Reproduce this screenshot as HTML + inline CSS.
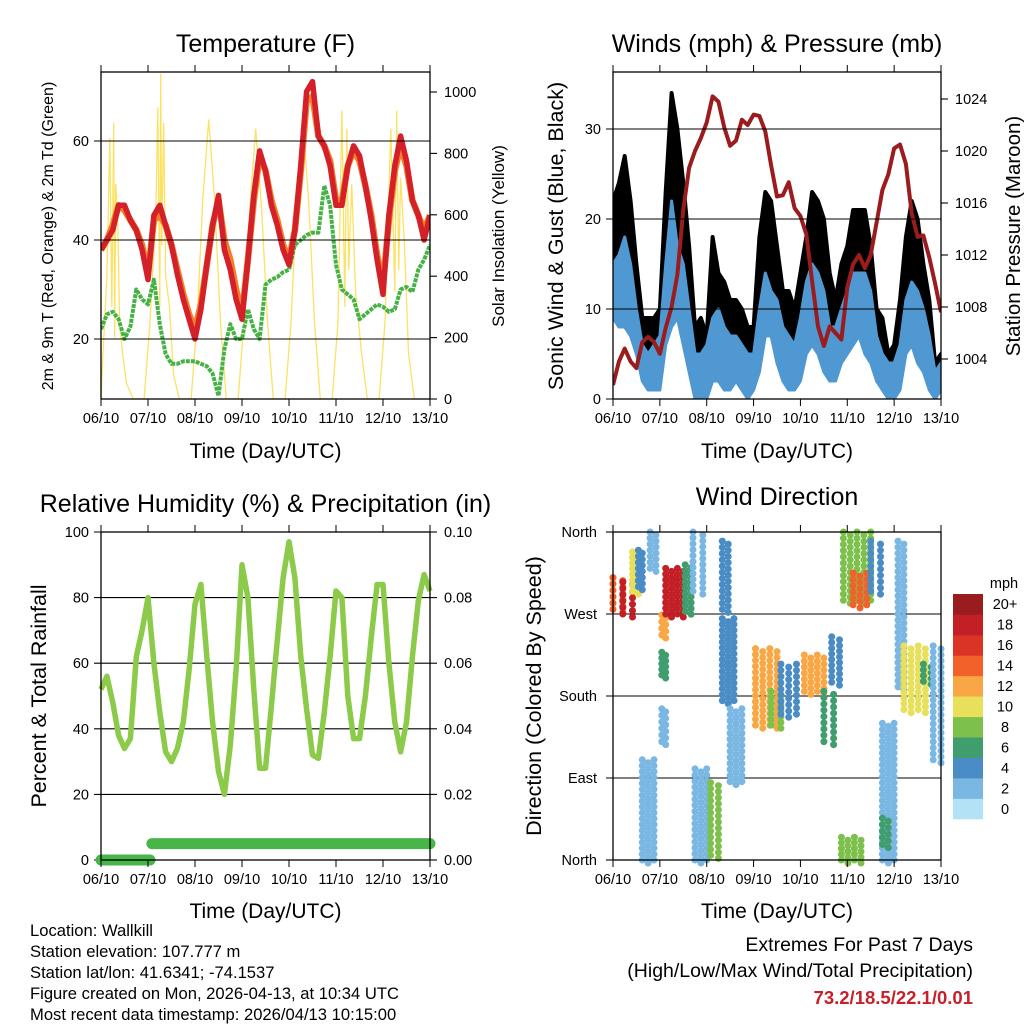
<!DOCTYPE html>
<html><head><meta charset="utf-8"><style>
html,body{margin:0;padding:0;background:#fff;}
svg{display:block;font-family:"Liberation Sans",sans-serif;}
</style></head><body>
<svg id="root" width="1024" height="1024" viewBox="0 0 1024 1024" xmlns="http://www.w3.org/2000/svg">
<defs>
<clipPath id="clip2"><rect x="613" y="72" width="328" height="327"/></clipPath>
<clipPath id="clip1"><rect x="101" y="72" width="329" height="327"/></clipPath>
</defs>
<g id="g1"></g>
<g id="g2"></g>
<g id="g3"></g>
<g id="g4"></g>
<g id="info">
<text x="30" y="936" font-size="16.6">Location: Wallkill</text>
<text x="30" y="957" font-size="16.6">Station elevation: 107.777 m</text>
<text x="30" y="978" font-size="16.6">Station lat/lon: 41.6341; -74.1537</text>
<text x="30" y="999" font-size="16.6">Figure created on Mon, 2026-04-13, at 10:34 UTC</text>
<text x="30" y="1020" font-size="16.6">Most recent data timestamp: 2026/04/13 10:15:00</text>
<text x="973" y="951" font-size="19.5" text-anchor="end">Extremes For Past 7 Days</text>
<text x="973" y="977" font-size="19.5" text-anchor="end">(High/Low/Max Wind/Total Precipitation)</text>
<text x="973" y="1004" font-size="18.5" font-weight="bold" fill="#c8202a" text-anchor="end">73.2/18.5/22.1/0.01</text>
</g>
</svg>
<script>
// ---------- data (3-hourly, t = 0..168 h) ----------
const dayLabels = ["06/10","07/10","08/10","09/10","10/10","11/10","12/10","13/10"];
const temp2m = [38,40,42,47,47,44,42,38,32,45,47,43,39,33,28,24,20,26,35,43,49,38,34,28,24,36,49,58,54,47,43,38,35,42,55,70,72,61,59,55,47,47,55,59,57,51,44,36,29,45,55,61,56,48,45,40,45];
const temp9m = [38,40,43,47,46,44,42,39,33,44,45,43,39,34,29,25,22,27,35,43,48,40,36,30,25,36,48,57,54,48,44,39,36,42,54,68,69,61,59,56,48,48,55,58,56,51,45,37,31,44,54,59,55,48,45,42,45];
const dewpt = [22,25,25.5,24,20,22.5,30,28,27,32,23,17,15,15,15.5,15.5,15.5,15,14.5,13,8.5,18,23,20,20,26,22,20,31,32,32.5,33.5,34,39,40,41,41.5,41.5,51,47,35,30,29,28,24,25,26,27,26.5,25.5,26,30,30.5,29.5,34,36,39];
const solarT = [-1,1,3,4.5,5.5,6.5,7,7.5,8.5,9.5,11,13,16.5, 22,25,28,29,30,30.5,31,32,33,35,37,40, 46,49,52,55,58,61,64, 70,73,76,79,82,85,88, 94,97,100,103,106,109,112, 118,121,123,124.5,125.5,126.5,128,130,133,136, 142,145,148,150,151,152,153,155,157,160];
const solarV = [0,150,400,850,300,900,200,700,600,250,150,50,0, 0,250,600,950,300,1060,500,900,400,300,80,0, 0,250,650,910,650,250,0, 0,250,620,880,620,250,0, 0,250,650,900,650,250,0, 0,250,940,300,880,420,700,350,150,0, 0,250,880,350,940,420,720,500,150,0];
const windLo = [9,8,8,7,5,2,1,1,1,6,8,9,6,3,0,0,0,2,2,1,1,2,1,0,1,3,7,7,4,2,1,1,2,5,6,5,3,2,2,4,5,6,7,5,4,2,1,0,0,1,5,6,4,3,1,0,1];
const windHi = [15,16,18,15,10,6,5,6,7,15,22,17,15,10,5,5,6,9,10,8,7,7,6,5,5,10,14,12,11,8,7,6,9,13,15,14,12,8,8,10,12,14,14,14,12,7,5,4,4,6,11,13,12,10,7,3,4];
const gustLo = [13,14,14,11,8,3,3,3,4,10,18,17,12,6,2,1,2,7,8,5,4,3,4,1,2,6,12,12,7,5,3,3,4,9,10,9,7,5,4,7,9,11,11,10,6,4,2,1,2,2,9,11,8,5,3,1,2];
const gustHi = [22,24,27,22,15,9,9,9,10,23,34,30,24,17,8,9,7,18,14,13,11,11,10,8,8,18,23,22,17,12,12,10,14,18,23,22,20,14,11,15,17,21,21,21,17,10,9,5,6,11,18,22,20,15,11,4,5];
const pressure = [1002,1003.8,1004.8,1003.8,1003.3,1005.3,1005.7,1005.3,1004.4,1006.4,1008,1010.5,1015.5,1018.7,1020,1021,1022.2,1024.2,1023.8,1021.8,1020.4,1020.8,1022.4,1022,1022.8,1022.7,1021.5,1018.9,1016.5,1016.6,1017.6,1015.6,1015,1013.6,1010,1006.5,1005,1006.5,1006,1005.5,1009.5,1011.3,1012,1011,1012,1014.5,1017,1018.2,1020.2,1020.5,1019,1015.2,1013.4,1013.5,1011.8,1009.8,1007.6];
const rh = [52,56,48,38,34,37,62,70,80,60,45,33,30,34,42,58,78,84,62,42,27,20,35,58,90,80,52,28,28,47,67,86,97,86,62,46,32,31,45,62,82,80,50,37,37,50,68,84,84,60,42,33,42,62,79,87,82];
const precipT = [0,25,26,168];
const precipV = [0,0,0.005,0.005];
// wind direction segments: start hour, end hour, dir low, dir high, speed (mph)
const dirT0 = [0,5,10,13,19,25,25,25,27,37,41,15,42,50,56,56,60,73,81,86,98,108,112,118,123,132,117,138,138,146,149,159,164];
const dirT1 = [5,10,13,15,22,27,27,27,36,40,46,21,48,54,59,62,66,84,86,94,108,113,116,132,130,137,127,144,141,149,160,163,168];
const dirLo = [275,270,295,300,320,203,130,247,270,273,295,0,0,5,275,175,86,148,148,160,185,130,195,285,280,295,0,0,17,190,165,196,110];
const dirHi = [310,305,338,340,360,228,166,269,320,324,360,110,100,85,350,265,166,232,185,215,225,185,245,360,315,350,25,150,46,350,235,215,235];
const dirSpd = [14,18,10,4,2,6,3,12,19,7,2,3,3,8,5,4,2,12,9,5,13,6,5,9,14,4,8,2,6,2,10,6,2];
const speedLabels = ["0","2","4","6","8","10","12","14","16","18","20+"];
const speedColors = ["#b3e2f7","#7ab7e2","#4a8cc6","#3f9d6e","#7dc04c","#e8e05a","#f9a745","#f16129","#dc3327","#c21f27","#9b1c1f"];

// ---------- helpers ----------
const NS="http://www.w3.org/2000/svg";
function mk(parent,tag,attrs,txt){const e=document.createElementNS(NS,tag);for(const k in attrs)e.setAttribute(k,attrs[k]);if(txt!==undefined)e.textContent=txt;parent.appendChild(e);return e;}
const hours = temp2m.map((_,i)=>i*3);
function lin(d0,d1,r0,r1){return v=>r0+(v-d0)*(r1-r0)/(d1-d0);}
function linePath(xs,ys){return xs.map((x,i)=>(i?'L':'M')+x.toFixed(1)+','+ys[i].toFixed(1)).join('');}
const TICK=14.5;

function frame(g,L,T,R,B,xs,title,titleY,xlabY){
  const f=mk(g,'rect',{x:L,y:T,width:R-L,height:B-T,fill:'none',stroke:'#000','stroke-width':1.3});
  
  
  dayLabels.forEach((d,i)=>{
    const x=xs(i*24);
    mk(g,'line',{x1:x,y1:B,x2:x,y2:B+7,stroke:'#000','stroke-width':1});
    mk(g,'line',{x1:x,y1:T,x2:x,y2:T-7,stroke:'#000','stroke-width':1});
    const t=mk(g,'text',{x:x,y:B+24,'font-size':TICK,'text-anchor':'middle'},d);
    
    
  });
  const tt=mk(g,'text',{x:(L+R)/2,y:titleY,'font-size':25,'text-anchor':'middle'},title);
  
  
  const xt=mk(g,'text',{x:(L+R)/2,y:xlabY,'font-size':21,'text-anchor':'middle'},'Time (Day/UTC)');
  
  
}
function leftTicks(g,L,R,ys,vals,labels,grid){
  vals.forEach((v,i)=>{const y=ys(v);
    mk(g,'line',{x1:L-7,y1:y,x2:grid?R:L,y2:y,stroke:'#000','stroke-width':1.1});
    const t=mk(g,'text',{x:L-12,y:y+5,'font-size':TICK,'text-anchor':'end'},labels[i]);
    
    });
}
function rightTicks(g,R,ys,vals,labels){
  vals.forEach((v,i)=>{const y=ys(v);
    mk(g,'line',{x1:R,y1:y,x2:R+7,y2:y,stroke:'#000','stroke-width':1.1});
    const t=mk(g,'text',{x:R+14,y:y+5,'font-size':TICK},labels[i]);
    
    });
}
function vtitle(g,x,y,size,txt,name){
  const t=mk(g,'text',{x:0,y:0,'font-size':size,'text-anchor':'middle',transform:`translate(${x},${y}) rotate(-90)`},txt);
  
  
}

// ---------- panel 1: temperature ----------
(function(){
  const g=document.getElementById('g1');const L=101,R=430,T=72,B=399;
  const xs=lin(0,168,L,R), ys=lin(40,60,240,141), ss=lin(0,1000,399,92);
  const cg=mk(g,'g',{'clip-path':'url(#clip1)'});
  const sol=mk(cg,'path',{d:linePath(solarT.map(t=>xs(Math.max(0,Math.min(168,t)))),solarV.map(ss)),fill:'none',stroke:'#fbe264','stroke-width':1.3});
  
  
  leftTicks(g,L,R,ys,[20,40,60],["20","40","60"],true);
  rightTicks(g,R,ss,[0,200,400,600,800,1000],["0","200","400","600","800","1000"]);
  const dp=mk(cg,'path',{d:linePath(hours.map(xs),dewpt.map(ys)),fill:'none',stroke:'#46b246','stroke-width':4,'stroke-dasharray':'4 1','stroke-linejoin':'round'});
  
  
  const t9=mk(cg,'path',{d:linePath(hours.map(xs),temp9m.map(ys)),fill:'none',stroke:'#f47d2a','stroke-width':6.5,'stroke-linejoin':'round'});
  
  
  const t2=mk(cg,'path',{d:linePath(hours.map(xs),temp2m.map(ys)),fill:'none',stroke:'#d42028','stroke-width':5.5,'stroke-linejoin':'round'});
  
  
  frame(g,L,T,R,B,xs,'Temperature (F)',52,458);
  vtitle(g,53,236,16,'2m & 9m T (Red, Orange) & 2m Td (Green)','y-axis-title');
  vtitle(g,504,236,17,'Solar Insolation (Yellow)','right-axis-title');
})();

// ---------- panel 2: winds ----------
(function(){
  const g=document.getElementById('g2');const L=613,R=941,T=72,B=399;
  const xs=lin(0,168,L,R), ys=lin(0,30,399,129), ps=lin(1004,1024,359,99);
  const X=hours.map(xs);
  const cg=mk(g,'g',{'clip-path':'url(#clip2)'});
  const gp=linePath(X,gustHi.map(ys))+'L'+X.slice().reverse().map((x,i)=>x.toFixed(1)+','+ys(gustLo[gustLo.length-1-i]).toFixed(1)).join('L')+'Z';
  const ga=mk(cg,'path',{d:gp,fill:'#000',stroke:'#000','stroke-width':4,'stroke-linejoin':'round'});
  
  
  const wp=linePath(X,windHi.map(ys))+'L'+X.slice().reverse().map((x,i)=>x.toFixed(1)+','+ys(windLo[windLo.length-1-i]).toFixed(1)).join('L')+'Z';
  const wa=mk(cg,'path',{d:wp,fill:'#4f98d2',stroke:'#4f98d2','stroke-width':3,'stroke-linejoin':'round'});
  
  
  leftTicks(g,L,R,ys,[0,10,20,30],["0","10","20","30"],true);
  rightTicks(g,R,ps,[1004,1008,1012,1016,1020,1024],["1004","1008","1012","1016","1020","1024"]);
  const pl=mk(cg,'path',{d:linePath(X,pressure.map(ps)),fill:'none',stroke:'#9b1c1f','stroke-width':4,'stroke-linejoin':'round'});
  
  
  frame(g,L,T,R,B,xs,'Winds (mph) & Pressure (mb)',52,458);
  vtitle(g,563,236,21.5,'Sonic Wind & Gust (Blue, Black)','y-axis-title');
  vtitle(g,1020,236,20.5,'Station Pressure (Maroon)','right-axis-title');
})();

// ---------- panel 3: humidity ----------
(function(){
  const g=document.getElementById('g3');const L=101,R=430,T=532,B=860;
  const xs=lin(0,168,L,R), ys=lin(0,100,860,532), ps=lin(0,0.1,860,532);
  leftTicks(g,L,R,ys,[0,20,40,60,80,100],["0","20","40","60","80","100"],true);
  rightTicks(g,R,ps,[0,0.02,0.04,0.06,0.08,0.1],["0.00","0.02","0.04","0.06","0.08","0.10"]);
  const pr=mk(g,'path',{d:linePath(precipT.map(t=>xs(t)),precipV.map(ps)).replace(/L([\d.]+),([\d.]+)L([\d.]+),([\d.]+)/,'L$1,$2M$3,$4'),fill:'none',stroke:'#47b548','stroke-width':11,'stroke-linecap':'round'});
  
  
  const l=mk(g,'path',{d:linePath(hours.map(xs),rh.map(ys)),fill:'none',stroke:'#8cca4a','stroke-width':5.5,'stroke-linejoin':'round'});
  
  
  frame(g,L,T,R,B,xs,'Relative Humidity (%) & Precipitation (in)',512,918);
  vtitle(g,46,696,21.5,'Percent & Total Rainfall','y-axis-title');
})();

// ---------- panel 4: wind direction ----------
(function(){
  const g=document.getElementById('g4');const L=613,R=941,T=532,B=860;
  const xs=lin(0,168,L,R), ys=lin(0,360,860,532);
  const dl=["North","East","South","West","North"];
  [0,90,180,270,360].forEach((v,i)=>{const y=ys(v);
    mk(g,'line',{x1:L-7,y1:y,x2:(v%360)?R:L,y2:y,stroke:'#000','stroke-width':1.1});
    const t=mk(g,'text',{x:L-16,y:y+5,'font-size':TICK,'text-anchor':'end'},dl[i]);
    
    });
  const dots=mk(g,'g',{});
  
  
  dirT0.forEach((t0,i)=>{
    const ci=Math.min(10,Math.floor(dirSpd[i]/2));
    const x0=xs(t0),x1=xs(dirT1[i]),y0=ys(dirHi[i]),y1=ys(dirLo[i]);
    const nx=Math.max(1,Math.round((x1-x0)/7)), ny=Math.max(1,Math.round((y1-y0)/6));
    for(let a=0;a<=nx;a++)for(let b=0;b<=ny;b++){
      const c=mk(dots,'circle',{cx:(x0+(x1-x0)*a/nx).toFixed(1),cy:(y0+(y1-y0)*b/ny+(a%2)*3).toFixed(1),r:3.5,fill:speedColors[ci]});
      
      
    }
  });
  frame(g,L,T,R,B,xs,'Wind Direction',505,918);
  vtitle(g,541,696,21.5,'Direction (Colored By Speed)','y-axis-title');
  // colorbar
  const cb=mk(g,'g',{});
  
  
  const h=225/speedColors.length;
  speedColors.forEach((c,i)=>{const y=819-(i+1)*h;
    const r=mk(cb,'rect',{x:953,y:y.toFixed(1),width:30,height:(h+0.3).toFixed(1),fill:c});
    
    
    const t=mk(cb,'text',{x:1005,y:(y+h/2+5).toFixed(1),'font-size':14.5,'text-anchor':'middle'},speedLabels[i]);
    
    });
  const u=mk(cb,'text',{x:1004,y:588,'font-size':14.5,'text-anchor':'middle'},'mph');
  
  
})();
</script>
</body></html>
